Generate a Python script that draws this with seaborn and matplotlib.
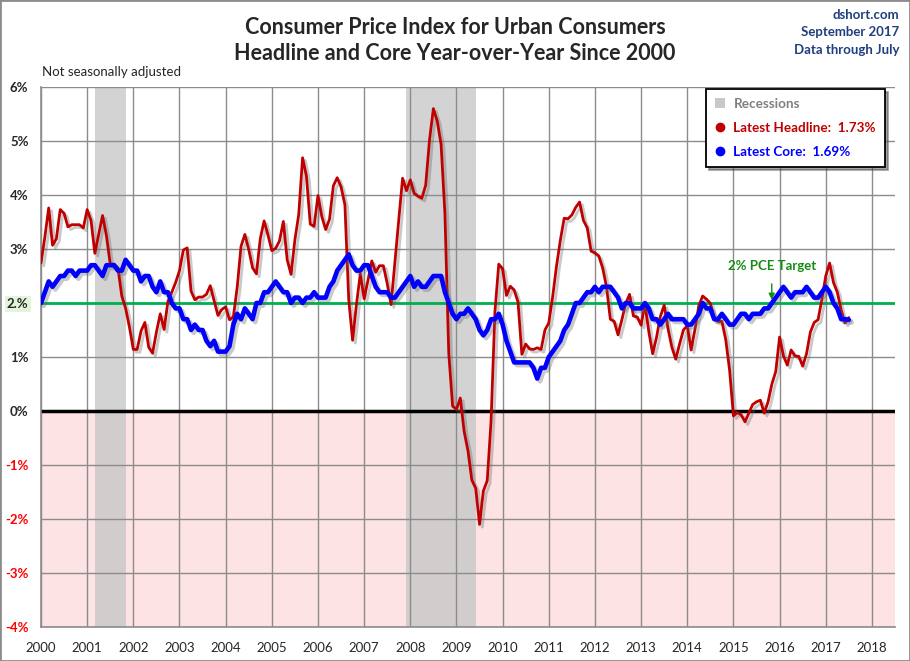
import matplotlib
matplotlib.use("Agg")
import matplotlib.pyplot as plt
import matplotlib.patheffects as pe
from matplotlib.patches import Patch, Rectangle
from matplotlib.lines import Line2D
import seaborn as sns
import pandas as pd
import numpy as np

# ── Data: monthly YoY % change, Jan 2000 - Jul 2017 ─────────────────────────
headline = [
    2.74, 3.22, 3.76, 3.07, 3.19, 3.73, 3.66, 3.41, 3.45, 3.45, 3.45, 3.39,   # 2000
    3.73, 3.53, 2.92, 3.27, 3.62, 3.25, 2.72, 2.72, 2.65, 2.13, 1.90, 1.55,   # 2001
    1.14, 1.14, 1.48, 1.64, 1.18, 1.07, 1.46, 1.80, 1.51, 2.03, 2.20, 2.38,   # 2002
    2.60, 2.98, 3.02, 2.22, 2.06, 2.11, 2.11, 2.16, 2.32, 2.04, 1.77, 1.88,   # 2003
    1.93, 1.69, 1.74, 2.29, 3.05, 3.27, 2.99, 2.65, 2.54, 3.19, 3.52, 3.26,   # 2004
    2.97, 3.01, 3.15, 3.51, 2.80, 2.53, 3.17, 3.64, 4.69, 4.35, 3.46, 3.42,   # 2005
    3.99, 3.60, 3.36, 3.55, 4.17, 4.32, 4.15, 3.82, 2.06, 1.31, 1.97, 2.54,   # 2006
    2.08, 2.42, 2.78, 2.57, 2.69, 2.69, 2.36, 1.97, 2.76, 3.54, 4.31, 4.08,   # 2007
    4.28, 4.03, 3.98, 3.94, 4.18, 5.02, 5.60, 5.37, 4.94, 3.66, 1.07, 0.09,   # 2008
    0.03, 0.24, -0.38, -0.74, -1.28, -1.43, -2.10, -1.48, -1.29, -0.18, 1.84, 2.72,  # 2009
    2.63, 2.14, 2.31, 2.24, 2.02, 1.05, 1.24, 1.15, 1.14, 1.17, 1.14, 1.50,   # 2010
    1.63, 2.11, 2.68, 3.16, 3.57, 3.56, 3.63, 3.77, 3.87, 3.53, 3.39, 2.96,   # 2011
    2.93, 2.87, 2.65, 2.30, 1.70, 1.66, 1.41, 1.69, 1.99, 2.16, 1.76, 1.74,   # 2012
    1.59, 1.98, 1.47, 1.06, 1.36, 1.75, 1.96, 1.52, 1.18, 0.96, 1.24, 1.50,   # 2013
    1.58, 1.13, 1.51, 1.95, 2.13, 2.07, 1.99, 1.70, 1.66, 1.66, 1.32, 0.76,   # 2014
    -0.09, -0.03, -0.07, -0.20, -0.04, 0.12, 0.17, 0.20, -0.04, 0.17, 0.50, 0.73,  # 2015
    1.37, 1.02, 0.85, 1.13, 1.02, 1.01, 0.83, 1.06, 1.46, 1.64, 1.69, 2.07,   # 2016
    2.50, 2.74, 2.38, 2.20, 1.87, 1.63, 1.73,                                 # 2017
]
core = [
    2.00, 2.20, 2.40, 2.30, 2.40, 2.50, 2.50, 2.60, 2.60, 2.50, 2.60, 2.60,   # 2000
    2.60, 2.70, 2.70, 2.60, 2.50, 2.70, 2.70, 2.70, 2.60, 2.60, 2.80, 2.70,   # 2001
    2.60, 2.60, 2.40, 2.50, 2.50, 2.30, 2.20, 2.40, 2.20, 2.20, 2.00, 1.90,   # 2002
    1.90, 1.70, 1.70, 1.50, 1.60, 1.50, 1.50, 1.30, 1.20, 1.30, 1.10, 1.10,   # 2003
    1.10, 1.20, 1.60, 1.80, 1.70, 1.90, 1.80, 1.70, 2.00, 2.00, 2.20, 2.20,   # 2004
    2.30, 2.40, 2.30, 2.20, 2.20, 2.00, 2.10, 2.10, 2.00, 2.10, 2.10, 2.20,   # 2005
    2.10, 2.10, 2.10, 2.30, 2.40, 2.60, 2.70, 2.80, 2.90, 2.70, 2.60, 2.60,   # 2006
    2.70, 2.70, 2.50, 2.30, 2.20, 2.20, 2.20, 2.10, 2.10, 2.20, 2.30, 2.40,   # 2007
    2.50, 2.30, 2.40, 2.30, 2.30, 2.40, 2.50, 2.50, 2.50, 2.20, 2.00, 1.80,   # 2008
    1.70, 1.80, 1.80, 1.90, 1.80, 1.70, 1.50, 1.40, 1.50, 1.70, 1.70, 1.80,   # 2009
    1.60, 1.30, 1.10, 0.90, 0.90, 0.90, 0.90, 0.90, 0.80, 0.60, 0.80, 0.80,   # 2010
    1.00, 1.10, 1.20, 1.30, 1.50, 1.60, 1.80, 2.00, 2.00, 2.10, 2.20, 2.20,   # 2011
    2.30, 2.20, 2.30, 2.30, 2.30, 2.20, 2.10, 1.90, 2.00, 2.00, 1.90, 1.90,   # 2012
    1.90, 2.00, 1.90, 1.70, 1.70, 1.60, 1.70, 1.80, 1.70, 1.70, 1.70, 1.70,   # 2013
    1.60, 1.60, 1.70, 1.80, 2.00, 1.90, 1.90, 1.70, 1.70, 1.80, 1.70, 1.60,   # 2014
    1.60, 1.70, 1.80, 1.80, 1.70, 1.80, 1.80, 1.80, 1.90, 1.90, 2.00, 2.10,   # 2015
    2.20, 2.30, 2.20, 2.10, 2.20, 2.20, 2.20, 2.30, 2.20, 2.10, 2.10, 2.20,   # 2016
    2.30, 2.20, 2.00, 1.90, 1.70, 1.70, 1.69,                                 # 2017
]
recessions = [(2001 + 2 / 12, 2001 + 10 / 12), (2007 + 11 / 12, 2009 + 5 / 12)]
years = list(range(2000, 2019))
y_ticks = [-4, -3, -2, -1, 0, 1, 2, 3, 4, 5, 6]
y_labels = ["-4%", "-3%", "-2%", "-1%", "0%", "1%", "2.%", "3%", "4%", "5%", "6%"]
pce_target = 2.0

df = pd.DataFrame({
    "date": 2000 + np.arange(len(headline)) / 12,
    "headline": headline,
    "core": core,
})

# ── Style ─────────────────────────────────────────────────────────────────
sns.set_style("white")
plt.rcParams["font.family"] = ["Lato", "DejaVu Sans"]

RED = "#C00000"
BLUE = "#0000FF"
GREEN = "#00B050"
GRID = "#8C8C8C"

fig = plt.figure(figsize=(9.1, 6.61), dpi=100)
ax = fig.add_axes([41 / 910, 34 / 661, 854 / 910, 540 / 661])

# background zones
ax.axhspan(-4, 0, color="#FDE3E4", zorder=0.1, lw=0)
for start, end in recessions:
    ax.axvspan(start, end, color="#C8C8C8", alpha=0.8, zorder=0.2, lw=0)

shadow = [pe.SimpleLineShadow(offset=(2, -2), shadow_color="#666666", alpha=0.35), pe.Normal()]

ax.axhline(pce_target, color=GREEN, lw=2, zorder=2)
ax.axhline(0, color="black", lw=2.5, zorder=2)

sns.lineplot(data=df, x="date", y="headline", ax=ax, color=RED, lw=2,
             zorder=3, path_effects=shadow)
sns.lineplot(data=df, x="date", y="core", ax=ax, color=BLUE, lw=3.3,
             zorder=4, path_effects=shadow)

ax.set_xlim(2000, 2018.5)
ax.set_ylim(-4, 6)
ax.set_xticks(years)
ax.set_xticklabels([str(y) for y in years], fontsize=9.5)
ax.set_yticks(y_ticks)
ax.set_yticklabels(y_labels, fontsize=9.5, fontweight="bold")
for lbl, v in zip(ax.get_yticklabels(), y_ticks):
    if v < 0:
        lbl.set_color("#FF0000")
    if v == 2:
        lbl.set_bbox(dict(facecolor="#E2F5DA", edgecolor="none", pad=1.5))
ax.tick_params(axis="y", length=0, pad=9)
ax.tick_params(axis="x", length=0, pad=11)
ax.set_xlabel("")
ax.set_ylabel("")
ax.set_axisbelow(True)
ax.grid(True, color=GRID, lw=1)
for s in ["top", "right"]:
    ax.spines[s].set_visible(False)
for s in ["left", "bottom"]:
    ax.spines[s].set_color(GRID)
    ax.spines[s].set_linewidth(1.2)

# PCE target annotation
ax.annotate("2% PCE Target", xy=(2015.83, 2.06), xytext=(2015.83, 2.68),
            ha="center", va="center", color="#148C14", fontsize=9.5, fontweight="bold",
            arrowprops=dict(arrowstyle="-|>", color="#148C14", lw=1, mutation_scale=9,
                            shrinkA=6, shrinkB=0))

# legend box
handles = [
    Patch(facecolor="#C8C8C8", edgecolor="none"),
    Line2D([], [], marker="o", ls="", color=RED, markersize=6),
    Line2D([], [], marker="o", ls="", color=BLUE, markersize=6),
]
labels = ["Recessions",
          f"Latest Headline:  {headline[-1]:.2f}%",
          f"Latest Core:  {core[-1]:.2f}%"]
leg = ax.legend(handles, labels, loc="upper right", bbox_to_anchor=(0.988, 0.996),
                borderaxespad=0, frameon=True, fancybox=False, shadow=True,
                labelspacing=0.9, handlelength=0.8, handletextpad=0.6,
                borderpad=0.65, prop={"weight": "bold", "size": 9.7})
leg.get_frame().set_edgecolor("black")
leg.get_frame().set_linewidth(1.3)
for txt, col in zip(leg.get_texts(), ["#808080", RED, BLUE]):
    txt.set_color(col)

# titles and notes
fig.text(0.5, 1 - 27 / 661, "Consumer Price Index for Urban Consumers",
         ha="center", va="center", fontsize=15.5, fontweight="bold")
fig.text(0.5, 1 - 54 / 661, "Headline and Core Year-over-Year Since 2000",
         ha="center", va="center", fontsize=15.5, fontweight="bold")
fig.text(42 / 910, 1 - 72 / 661, "Not seasonally adjusted", ha="left", va="center",
         fontsize=9.5)
for i, line in enumerate(["dshort.com", "September 2017", "Data through July"]):
    fig.text(899 / 910, 1 - (15 + 17.5 * i) / 661, line, ha="right", va="center",
             fontsize=9.5, fontweight="bold", color="#1F3F7F")

fig.patches.append(Rectangle((0, 0), 1, 1, transform=fig.transFigure, fill=False,
                             edgecolor="#8C8C8C", lw=2))

fig.savefig("out.png", dpi=100)
